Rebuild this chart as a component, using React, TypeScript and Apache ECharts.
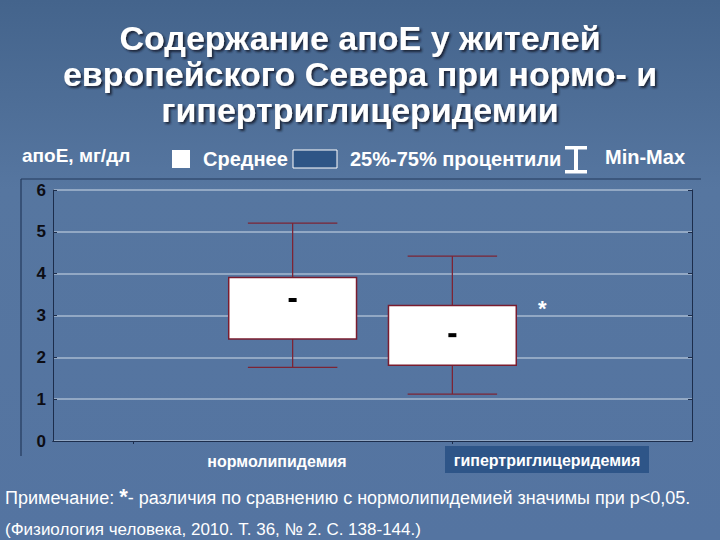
import React, { useEffect, useRef } from "react";
import * as echarts from "echarts";

// ---- data ----
const categories = ["", "нормолипидемия", "гипертриглицеридемия", ""];
const groupIndex = [1, 2];
const minValues = [1.76, 1.12];
const q1Values = [2.44, 1.81];
const q3Values = [3.91, 3.24];
const maxValues = [5.21, 4.42];
const meanValues = [3.37, 2.53];
const significant = [0, 1];
const yTickLabels = ["0", "1", "2", "3", "4", "5", "6"];

const titleLines = [
  "Содержание апоЕ у жителей",
  "европейского Севера при нормо- и",
  "гипертриглицеридемии",
];
const yAxisName = "апоЕ, мг/дл";
const legendMean = "Среднее";
const legendBox = "25%-75% процентили";
const legendRange = "Min-Max";
const noteLabel = "Примечание: ";
const noteText = "- различия по сравнению с нормолипидемией значимы при p<0,05.";
const sourceText = "(Физиология человека, 2010. Т. 36, № 2. С. 138-144.)";

const FONT = "'Liberation Sans', Arial, sans-serif";
const BOX_STROKE = "#7a1c2e";
const WHISKER = "#7d2434";
const AXIS = "#1c2d4c";

export default function App() {
  const ref = useRef<HTMLDivElement>(null);

  useEffect(() => {
    document.body.style.margin = "0";
    const chart = echarts.init(ref.current!, null, { renderer: "svg" });

    const boxData = groupIndex.map((g, i) => [
      g,
      minValues[i],
      q1Values[i],
      q3Values[i],
      maxValues[i],
      meanValues[i],
      significant[i],
    ]);

    const option: any = {
      animation: false,
      backgroundColor: {
        type: "linear",
        x: 0,
        y: 0,
        x2: 0,
        y2: 1,
        colorStops: [
          { offset: 0, color: "#44648c" },
          { offset: 0.35, color: "#5676a0" },
          { offset: 1, color: "#5474a1" },
        ],
      },
      grid: {
        left: 53,
        right: 28,
        top: 190,
        bottom: 99,
        show: false,
      },
      xAxis: [
        {
          type: "category",
          data: categories,
          boundaryGap: true,
          axisLine: { show: true, lineStyle: { color: AXIS, width: 1 } },
          axisTick: {
            show: true,
            alignWithLabel: true,
            inside: false,
            length: 3,
            lineStyle: { color: "#c8d4e4" },
          },
          axisLabel: { show: false },
          splitLine: { show: false },
        },
        {
          type: "category",
          data: categories,
          position: "top",
          boundaryGap: true,
          axisLine: { show: true, lineStyle: { color: AXIS, width: 1 } },
          axisTick: {
            show: true,
            alignWithLabel: true,
            inside: true,
            length: 3,
            lineStyle: { color: AXIS },
          },
          axisLabel: { show: false },
        },
      ],
      yAxis: [
        {
          type: "value",
          min: 0,
          max: 6,
          interval: 1,
          axisLine: { show: true, lineStyle: { color: AXIS, width: 1 } },
          axisTick: { show: true, inside: true, length: 4, lineStyle: { color: AXIS } },
          axisLabel: {
            margin: 7,
            color: "#0d0d14",
            fontFamily: FONT,
            fontWeight: "bold",
            fontSize: 17,
            formatter: (v: number) => yTickLabels[Math.round(v)] ?? "",
          },
          splitLine: {
            show: true,
            lineStyle: { color: "rgba(235,242,250,0.55)", width: 1.5 },
          },
        },
        {
          type: "value",
          position: "right",
          min: 0,
          max: 6,
          interval: 1,
          axisLine: { show: true, lineStyle: { color: AXIS, width: 1 } },
          axisTick: { show: true, inside: true, length: 4, lineStyle: { color: AXIS } },
          axisLabel: { show: false },
          splitLine: { show: false },
        },
      ],
      series: [
        {
          type: "custom",
          xAxisIndex: 0,
          yAxisIndex: 0,
          data: boxData,
          encode: { x: 0, y: [1, 2, 3, 4, 5] },
          renderItem: (params: any, api: any) => {
            const x = api.value(0);
            const pMin = api.coord([x, api.value(1)]);
            const pQ1 = api.coord([x, api.value(2)]);
            const pQ3 = api.coord([x, api.value(3)]);
            const pMax = api.coord([x, api.value(4)]);
            const pMean = api.coord([x, api.value(5)]);
            const sig = api.value(6);
            const band = api.size([1, 0])[0];
            const bw = band * 0.8;
            const cw = band * 0.56;
            const cx = pQ1[0];
            const ws = { stroke: WHISKER, lineWidth: 1.3 };
            const children: any[] = [
              { type: "line", shape: { x1: cx, y1: pMax[1], x2: cx, y2: pQ3[1] }, style: ws },
              { type: "line", shape: { x1: cx, y1: pQ1[1], x2: cx, y2: pMin[1] }, style: ws },
              { type: "line", shape: { x1: cx - cw / 2, y1: pMax[1], x2: cx + cw / 2, y2: pMax[1] }, style: ws },
              { type: "line", shape: { x1: cx - cw / 2, y1: pMin[1], x2: cx + cw / 2, y2: pMin[1] }, style: ws },
              {
                type: "rect",
                shape: { x: cx - bw / 2, y: pQ3[1], width: bw, height: pQ1[1] - pQ3[1] },
                style: { fill: "#ffffff", stroke: BOX_STROKE, lineWidth: 1.5 },
              },
              {
                type: "rect",
                shape: { x: cx - 4, y: pMean[1] - 2, width: 8, height: 4 },
                style: { fill: "#000000" },
              },
            ];
            if (sig) {
              children.push({
                type: "text",
                x: cx + bw / 2 + 26,
                y: pQ3[1] + 3,
                style: {
                  text: "*",
                  fill: "#ffffff",
                  font: `bold 22px ${FONT}`,
                  align: "center",
                  verticalAlign: "middle",
                },
              });
            }
            return { type: "group", children };
          },
        },
      ],
      graphic: [
        // title
        ...titleLines.map((t, i) => ({
          type: "text",
          x: 360,
          y: 38 + i * 36,
          style: {
            text: t,
            fill: "#ffffff",
            font: `bold 34px ${FONT}`,
            align: "center",
            verticalAlign: "middle",
            textShadowColor: "rgba(20,30,50,0.9)",
            textShadowOffsetX: 2,
            textShadowOffsetY: 2,
            textShadowBlur: 2,
          },
        })),
        // y axis name
        {
          type: "text",
          x: 22,
          y: 155,
          style: {
            text: yAxisName,
            fill: "#ffffff",
            font: `bold 19px ${FONT}`,
            align: "left",
            verticalAlign: "middle",
          },
        },
        // legend
        {
          type: "rect",
          shape: { x: 172, y: 150, width: 18, height: 18 },
          style: { fill: "#ffffff" },
        },
        {
          type: "text",
          x: 203,
          y: 159,
          style: {
            text: legendMean,
            fill: "#ffffff",
            font: `bold 20px ${FONT}`,
            align: "left",
            verticalAlign: "middle",
          },
        },
        {
          type: "rect",
          shape: { x: 293, y: 150, width: 44, height: 18 },
          style: { fill: "#2e5586", stroke: "#ffffff", lineWidth: 1 },
        },
        {
          type: "text",
          x: 350,
          y: 159,
          style: {
            text: legendBox,
            fill: "#ffffff",
            font: `bold 20px ${FONT}`,
            align: "left",
            verticalAlign: "middle",
          },
        },
        {
          type: "rect",
          shape: { x: 565, y: 146, width: 22, height: 3.5 },
          style: { fill: "#ffffff" },
        },
        {
          type: "rect",
          shape: { x: 574, y: 146, width: 4, height: 27 },
          style: { fill: "#ffffff" },
        },
        {
          type: "rect",
          shape: { x: 565, y: 170, width: 22, height: 3.5 },
          style: { fill: "#ffffff" },
        },
        {
          type: "text",
          x: 605,
          y: 157,
          style: {
            text: legendRange,
            fill: "#ffffff",
            font: `bold 20px ${FONT}`,
            align: "left",
            verticalAlign: "middle",
          },
        },
        // outer chart frame (top & left)
        {
          type: "line",
          shape: { x1: 21, y1: 179, x2: 701, y2: 179 },
          style: { stroke: "#243a5c", lineWidth: 1.2 },
        },
        {
          type: "line",
          shape: { x1: 21, y1: 179, x2: 21, y2: 456 },
          style: { stroke: "#243a5c", lineWidth: 1.2 },
        },
        // category labels
        {
          type: "text",
          x: 277,
          y: 461,
          style: {
            text: categories[1],
            fill: "#ffffff",
            font: `bold 16px ${FONT}`,
            align: "center",
            verticalAlign: "middle",
          },
        },
        {
          type: "rect",
          shape: { x: 445, y: 446, width: 204, height: 27 },
          style: { fill: "#2e5588" },
        },
        {
          type: "text",
          x: 547,
          y: 460,
          style: {
            text: categories[2],
            fill: "#ffffff",
            font: `bold 16px ${FONT}`,
            align: "center",
            verticalAlign: "middle",
          },
        },
        // notes
        {
          type: "text",
          x: 5,
          y: 498,
          style: {
            rich: {
              n: { fontSize: 18, fontFamily: FONT, fill: "#ffffff", lineHeight: 26 },
              s: { fontSize: 22, fontFamily: FONT, fill: "#ffffff", fontWeight: "bold", verticalAlign: "top", lineHeight: 26 },
            },
            text: `{n|${noteLabel}}{s|*}{n|${noteText}}`,
            align: "left",
            verticalAlign: "middle",
          },
        },
        {
          type: "text",
          x: 5,
          y: 529,
          style: {
            text: sourceText,
            fill: "#ffffff",
            font: `17px ${FONT}`,
            align: "left",
            verticalAlign: "middle",
          },
        },
      ],
    };

    chart.setOption(option);
    return () => chart.dispose();
  }, []);

  return <div ref={ref} style={{ width: 720, height: 540 }} />;
}
